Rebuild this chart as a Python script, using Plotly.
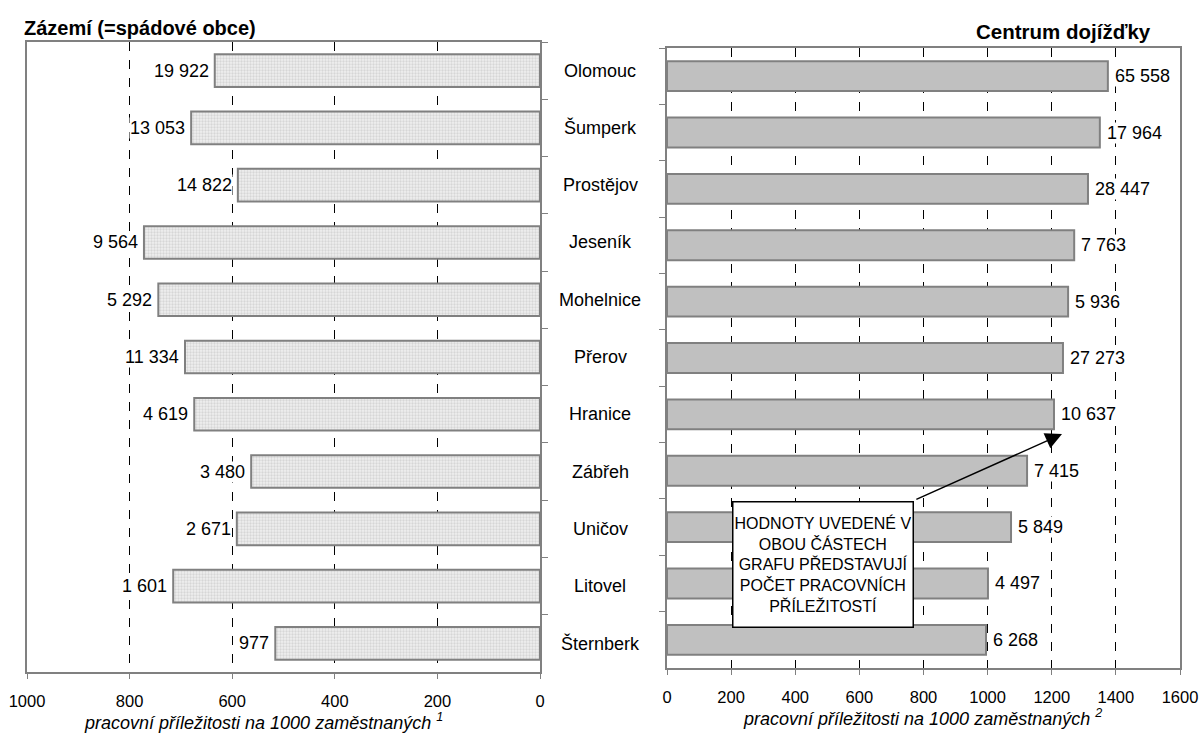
import plotly.graph_objects as go

categories = ["Olomouc", "Šumperk", "Prostějov", "Jeseník", "Mohelnice", "Přerov",
              "Hranice", "Zábřeh", "Uničov", "Litovel", "Šternberk"]
# Zázemí (spádové obce): pracovní příležitosti na 1000 zaměstnaných, počet příležitostí
left_rate = [634, 680, 589, 772, 744, 692, 674, 563, 591, 715, 516]
left_count = [19922, 13053, 14822, 9564, 5292, 11334, 4619, 3480, 2671, 1601, 977]
# Centrum dojížďky
right_rate = [1375, 1350, 1313, 1270, 1251, 1235, 1207, 1123, 1073, 1001, 995]
right_count = [65558, 17964, 28447, 7763, 5936, 27273, 10637, 7415, 5849, 4497, 6268]

left_ticks = [1000, 800, 600, 400, 200, 0]
right_ticks = [0, 200, 400, 600, 800, 1000, 1200, 1400, 1600]

FONT = "Liberation Sans, Arial, sans-serif"
GRAY = "#808080"
W, H = 1202, 733


def fmt(v):
    return f"{v:,}".replace(",", " ")


def px(x):
    return x / W


def py(y):
    return 1 - y / H


fig = go.Figure()
fig.add_trace(go.Bar(
    x=left_rate, y=categories, orientation="h", xaxis="x", yaxis="y",
    width=0.57,
    marker=dict(color="#ececec", line=dict(color=GRAY, width=2),
                pattern=dict(shape=".", size=3, solidity=0.45,
                             fgcolor="#bdbdbd", bgcolor="#efefef")),
    showlegend=False, hoverinfo="skip",
))
fig.add_trace(go.Bar(
    x=right_rate, y=categories, orientation="h", xaxis="x2", yaxis="y2",
    width=0.53,
    marker=dict(color="#c0c0c0", line=dict(color=GRAY, width=2)),
    showlegend=False, hoverinfo="skip",
))

annotations = []
for c, r, n in zip(categories, left_rate, left_count):
    annotations.append(dict(x=r, y=c, xref="x", yref="y", text=fmt(n), showarrow=False,
                            xanchor="right", xshift=-5, bgcolor="white", borderpad=0,
                            font=dict(size=18, color="black", family=FONT)))
    annotations.append(dict(x=px(600), y=c, xref="paper", yref="y", text=c, showarrow=False,
                            xanchor="center", font=dict(size=18, color="black", family=FONT)))
for c, r, n in zip(categories, right_rate, right_count):
    annotations.append(dict(x=r, y=c, xref="x2", yref="y2", text=fmt(n), showarrow=False,
                            xanchor="left", xshift=6, bgcolor="white", borderpad=0,
                            font=dict(size=18, color="black", family=FONT)))

annotations += [
    dict(x=px(22), y=py(28), xref="paper", yref="paper", xanchor="left", yanchor="middle",
         text="<b>Zázemí (=spádové obce)</b>", showarrow=False,
         font=dict(size=20, color="black", family=FONT)),
    dict(x=px(1153), y=py(32), xref="paper", yref="paper", xanchor="right", yanchor="middle",
         text="<b>Centrum dojížďky</b>", showarrow=False,
         font=dict(size=20.5, color="black", family=FONT)),
    dict(x=px(263), y=py(721), xref="paper", yref="paper", xanchor="center", yanchor="middle",
         text="<i>pracovní příležitosti na 1000 zaměstnaných <sup>1</sup></i>", showarrow=False,
         font=dict(size=18, color="black", family=FONT)),
    dict(x=px(922), y=py(717), xref="paper", yref="paper", xanchor="center", yanchor="middle",
         text="<i>pracovní příležitosti na 1000 zaměstnaných <sup>2</sup></i>", showarrow=False,
         font=dict(size=18, color="black", family=FONT)),
    dict(x=1232, y=6.35, xref="x2", yref="y2", ax=773, ay=7.52, axref="x2", ayref="y2",
         text="", showarrow=True, arrowhead=2, arrowsize=2.2, arrowwidth=1.5,
         arrowcolor="black"),
    dict(x=488, y=8.66, xref="x2", yref="y2", showarrow=False,
         text="HODNOTY UVEDENÉ V<br>OBOU ČÁSTECH<br>GRAFU PŘEDSTAVUJÍ<br>POČET PRACOVNÍCH<br>PŘÍLEŽITOSTÍ",
         width=177, height=122, bgcolor="white", bordercolor="black", borderwidth=1.5,
         borderpad=1, align="center", font=dict(size=16, color="black", family=FONT)),
]

axis_common = dict(
    showline=True, linecolor=GRAY, linewidth=2, mirror=True,
    showgrid=True, gridcolor="black", griddash="dash", gridwidth=1,
    zeroline=False, ticks="outside", ticklen=5, tickcolor=GRAY,
    tickfont=dict(size=16.5, color="black", family=FONT),
    ticklabelstandoff=8, automargin=False,
)
yaxis_common = dict(
    autorange="reversed", showticklabels=False, showline=True, linecolor=GRAY,
    linewidth=2, mirror=True, ticks="outside", tickson="boundaries", ticklen=6,
    tickcolor=GRAY, showgrid=False, automargin=False,
)

fig.update_layout(
    width=W, height=H,
    margin=dict(l=0, r=0, t=0, b=0),
    plot_bgcolor="white", paper_bgcolor="white",
    font=dict(family=FONT, color="black"),
    xaxis=dict(domain=[px(27), px(540)], range=[1000, 0], tickvals=left_ticks,
               anchor="y", **axis_common),
    yaxis=dict(domain=[py(672), py(42)], side="right", anchor="x", **yaxis_common),
    xaxis2=dict(domain=[px(667), px(1180)], range=[0, 1600], tickvals=right_ticks,
                anchor="y2", **axis_common),
    yaxis2=dict(domain=[py(668), py(48)], side="left", anchor="x2", **yaxis_common),
    annotations=annotations,
)

fig.write_html("out.html",
               config={"displayModeBar": False},
               post_script="document.body.style.margin='0px';document.body.style.overflow='hidden';")
